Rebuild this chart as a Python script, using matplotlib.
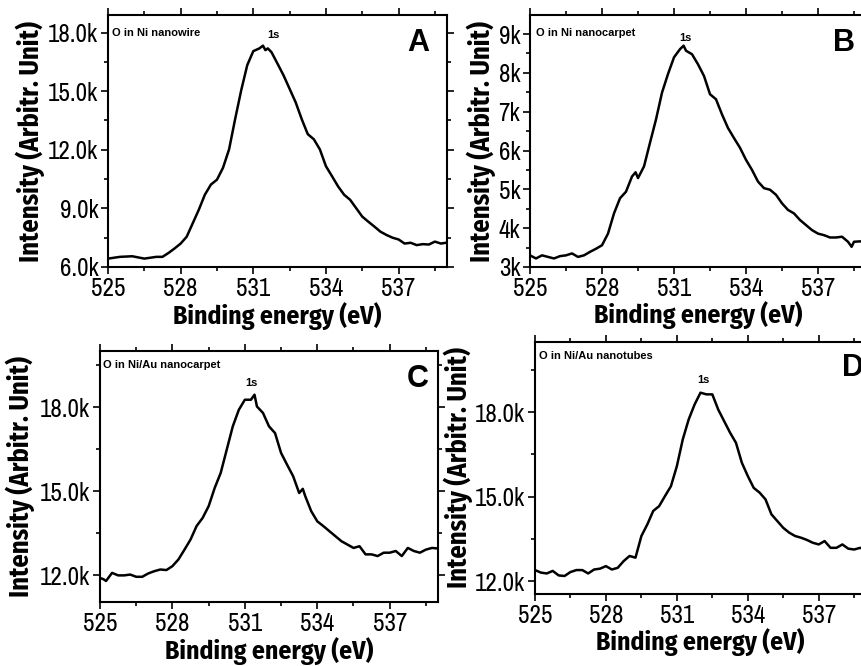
import matplotlib
matplotlib.use('Agg')
import matplotlib.pyplot as plt
from matplotlib.ticker import MultipleLocator, FuncFormatter

TICKFONT = ['Archivo Narrow', 'Fira Sans Condensed', 'DejaVu Sans']
LABFONT = ['Fira Sans Condensed', 'Archivo Narrow', 'DejaVu Sans']
WIDE = ['Liberation Sans', 'DejaVu Sans']

# Panel A: O in Ni nanowire
x_a = [525, 525.5, 526, 526.5, 527, 527.25, 527.5, 527.75, 528, 528.25, 528.5, 528.75,
       529, 529.25, 529.5, 529.75, 530, 530.25, 530.5, 530.75, 531, 531.25, 531.4, 531.5,
       531.6, 531.75, 532, 532.25, 532.5, 532.75, 533, 533.25, 533.5, 533.75, 534, 534.25,
       534.5, 534.75, 535, 535.25, 535.5, 535.75, 536, 536.25, 536.5, 536.75, 537, 537.25,
       537.5, 537.75, 538, 538.25, 538.5, 538.75, 539]
y_a = [6.43, 6.52, 6.55, 6.43, 6.52, 6.52, 6.72, 6.95, 7.2, 7.55, 8.24, 8.93,
       9.7, 10.22, 10.47, 11.08, 12.02, 13.57, 15.04, 16.33, 17.05, 17.19, 17.33, 17.1,
       17.19, 17.0, 16.41, 15.81, 15.12, 14.43, 13.57, 12.8, 12.54, 12.02, 11.16, 10.65,
       10.13, 9.7, 9.44, 9.01, 8.58, 8.32, 8.07, 7.81, 7.64, 7.5, 7.41, 7.2,
       7.24, 7.12, 7.17, 7.15, 7.3, 7.2, 7.25]

# Panel B: O in Ni nanocarpet
x_b = [525, 525.25, 525.5, 525.75, 526, 526.25, 526.5, 526.75, 527, 527.25, 527.5, 527.75,
       528, 528.25, 528.5, 528.75, 529, 529.25, 529.4, 529.5, 529.75, 530, 530.25, 530.5,
       530.75, 531, 531.25, 531.4, 531.5, 531.75, 532, 532.25, 532.5, 532.75, 533, 533.25,
       533.5, 533.75, 534, 534.25, 534.5, 534.75, 535, 535.25, 535.5, 535.75, 536, 536.25,
       536.5, 536.75, 537, 537.25, 537.5, 537.75, 538, 538.25, 538.4, 538.5, 538.75, 539]
y_b = [3.30, 3.22, 3.30, 3.26, 3.22, 3.28, 3.30, 3.35, 3.26, 3.30, 3.39, 3.47,
       3.56, 3.86, 4.38, 4.77, 4.94, 5.33, 5.44, 5.29, 5.59, 6.2, 6.8, 7.49,
       7.97, 8.4, 8.61, 8.7, 8.57, 8.48, 8.22, 7.92, 7.45, 7.32, 6.93, 6.58,
       6.32, 6.07, 5.76, 5.5, 5.2, 5.03, 4.99, 4.86, 4.64, 4.47, 4.38, 4.21,
       4.08, 3.95, 3.86, 3.82, 3.76, 3.76, 3.78, 3.65, 3.52, 3.65, 3.66, 3.65]

# Panel C: O in Ni/Au nanocarpet
x_c = [525, 525.15, 525.25, 525.5, 525.75, 526, 526.25, 526.5, 526.75, 527, 527.25, 527.5,
       527.75, 528, 528.25, 528.5, 528.75, 529, 529.25, 529.5, 529.75, 530, 530.25, 530.5,
       530.75, 531, 531.25, 531.4, 531.5, 531.75, 532, 532.25, 532.5, 532.75, 533, 533.25,
       533.4, 533.5, 533.75, 534, 534.25, 534.5, 534.75, 535, 535.25, 535.5, 535.75, 536,
       536.25, 536.5, 536.75, 537, 537.25, 537.5, 537.75, 538, 538.25, 538.5, 538.75, 539]
y_c = [11.9, 11.85, 11.79, 12.08, 11.99, 11.99, 12.02, 11.94, 11.94, 12.06, 12.14, 12.2,
       12.18, 12.32, 12.56, 12.91, 13.27, 13.75, 14.04, 14.46, 15.11, 15.65, 16.48, 17.31,
       17.9, 18.26, 18.26, 18.44, 18.02, 17.79, 17.31, 17.07, 16.36, 15.94, 15.53, 14.93,
       15.08, 14.82, 14.28, 13.92, 13.75, 13.57, 13.39, 13.21, 13.09, 12.97, 13.03, 12.74,
       12.74, 12.68, 12.8, 12.8, 12.86, 12.68, 12.97, 12.86, 12.8, 12.91, 12.97, 12.95]

# Panel D: O in Ni/Au nanotubes
x_d = [525, 525.25, 525.5, 525.75, 526, 526.25, 526.5, 526.75, 527, 527.25, 527.5, 527.75,
       528, 528.25, 528.5, 528.75, 529, 529.25, 529.5, 529.75, 530, 530.25, 530.5, 530.75,
       531, 531.25, 531.5, 531.75, 532, 532.25, 532.5, 532.75, 533, 533.25, 533.5, 533.75,
       534, 534.25, 534.5, 534.75, 535, 535.25, 535.5, 535.75, 536, 536.25, 536.5, 536.75,
       537, 537.25, 537.5, 537.75, 538, 538.25, 538.5, 538.75, 539]
y_d = [12.39, 12.3, 12.27, 12.36, 12.2, 12.18, 12.32, 12.39, 12.39, 12.27, 12.41, 12.44,
       12.53, 12.41, 12.47, 12.71, 12.89, 12.83, 13.6, 14.01, 14.49, 14.66, 15.02, 15.37,
       16.08, 17.03, 17.74, 18.27, 18.69, 18.63, 18.63, 18.09, 17.68, 17.27, 16.91, 16.2,
       15.73, 15.31, 15.14, 14.9, 14.37, 14.13, 13.89, 13.72, 13.6, 13.54, 13.46, 13.36,
       13.3, 13.42, 13.18, 13.18, 13.3, 13.15, 13.12, 13.18, 13.1]

W, H = 862, 666
fig = plt.figure(figsize=(W / 100, H / 100), dpi=100)


def box(left, top, right, bottom):
    # pixel box -> figure fraction
    return [left / W, 1 - bottom / H, (right - left) / W, (bottom - top) / H]


panels = [
    # rect, x, y, ylim, major, minor, fmt, name, name_pos, s_pos, letter, letter_pos, ylab_x, xlab_y
    (box(108, 15, 447, 267), x_a, y_a, (6.0, 18.9), 3.0, 1.5, '{:.1f}k',
     'O in Ni nanowire', (0.012, 0.93), (0.487, 0.92), 'A', (0.915, 0.89), -0.186, -0.14),
    (box(530, 15, 866, 267), x_b, y_b, (3.0, 9.49), 1.0, 0.5, '{:.0f}k',
     'O in Ni nanocarpet', (0.018, 0.93), (0.464, 0.91), 'B', (0.935, 0.89), -0.101, -0.135),
    (box(100, 351, 438, 602), x_c, y_c, (11.04, 20.0), 3.0, 1.5, '{:.1f}k',
     'O in Ni/Au nanocarpet', (0.01, 0.944), (0.447, 0.873), 'C', (0.94, 0.89), -0.192, -0.138),
    (box(535, 342, 866, 594), x_d, y_d, (11.54, 20.49), 3.0, 1.5, '{:.1f}k',
     'O in Ni/Au nanotubes', (0.012, 0.944), (0.51, 0.85), 'D', (0.96, 0.897), -0.187, -0.137),
]

for (rect, xs, ys, ylim, major, minor, fmt, name, name_pos, s_pos,
     letter, letter_pos, ylab_x, xlab_y) in panels:
    ax = fig.add_axes(rect)
    ax.plot(xs, ys, color='black', linewidth=1.8)
    ax.set_xlim(525, 539)
    ax.set_ylim(*ylim)
    ax.xaxis.set_major_locator(MultipleLocator(3))
    ax.xaxis.set_minor_locator(MultipleLocator(1.5))
    ax.yaxis.set_major_locator(MultipleLocator(major))
    ax.yaxis.set_minor_locator(MultipleLocator(minor))
    ax.yaxis.set_major_formatter(FuncFormatter(lambda v, p, f=fmt: f.format(v)))
    ax.tick_params(which='both', direction='out', top=True, right=True, width=1.2)
    ax.tick_params(which='major', length=5, pad=2)
    ax.tick_params(which='minor', length=3)
    ax.tick_params(axis='x', which='major', pad=2)
    for lab in ax.get_xticklabels() + ax.get_yticklabels():
        lab.set_family(TICKFONT)
        lab.set_fontsize(18)
    for sp in ax.spines.values():
        sp.set_linewidth(1.5)

    ax.set_xlabel('Binding energy (eV)', family=LABFONT, fontsize=18.5, fontweight='bold')
    ax.xaxis.set_label_coords(0.5, xlab_y)
    ax.set_ylabel('Intensity (Arbitr. Unit)', family=LABFONT, fontsize=19, fontweight='bold')
    ax.yaxis.set_label_coords(ylab_x, 0.5)

    ax.text(name_pos[0], name_pos[1], name, transform=ax.transAxes, family=WIDE,
            fontsize=8, fontweight='bold', ha='left', va='center')
    ax.text(s_pos[0], s_pos[1], '1s', transform=ax.transAxes, family=WIDE,
            fontsize=8, fontweight='bold', ha='center', va='center')
    ax.text(letter_pos[0], letter_pos[1], letter, transform=ax.transAxes, family=WIDE,
            fontsize=22, fontweight='bold', ha='center', va='center')

fig.savefig('out.png', dpi=100)
